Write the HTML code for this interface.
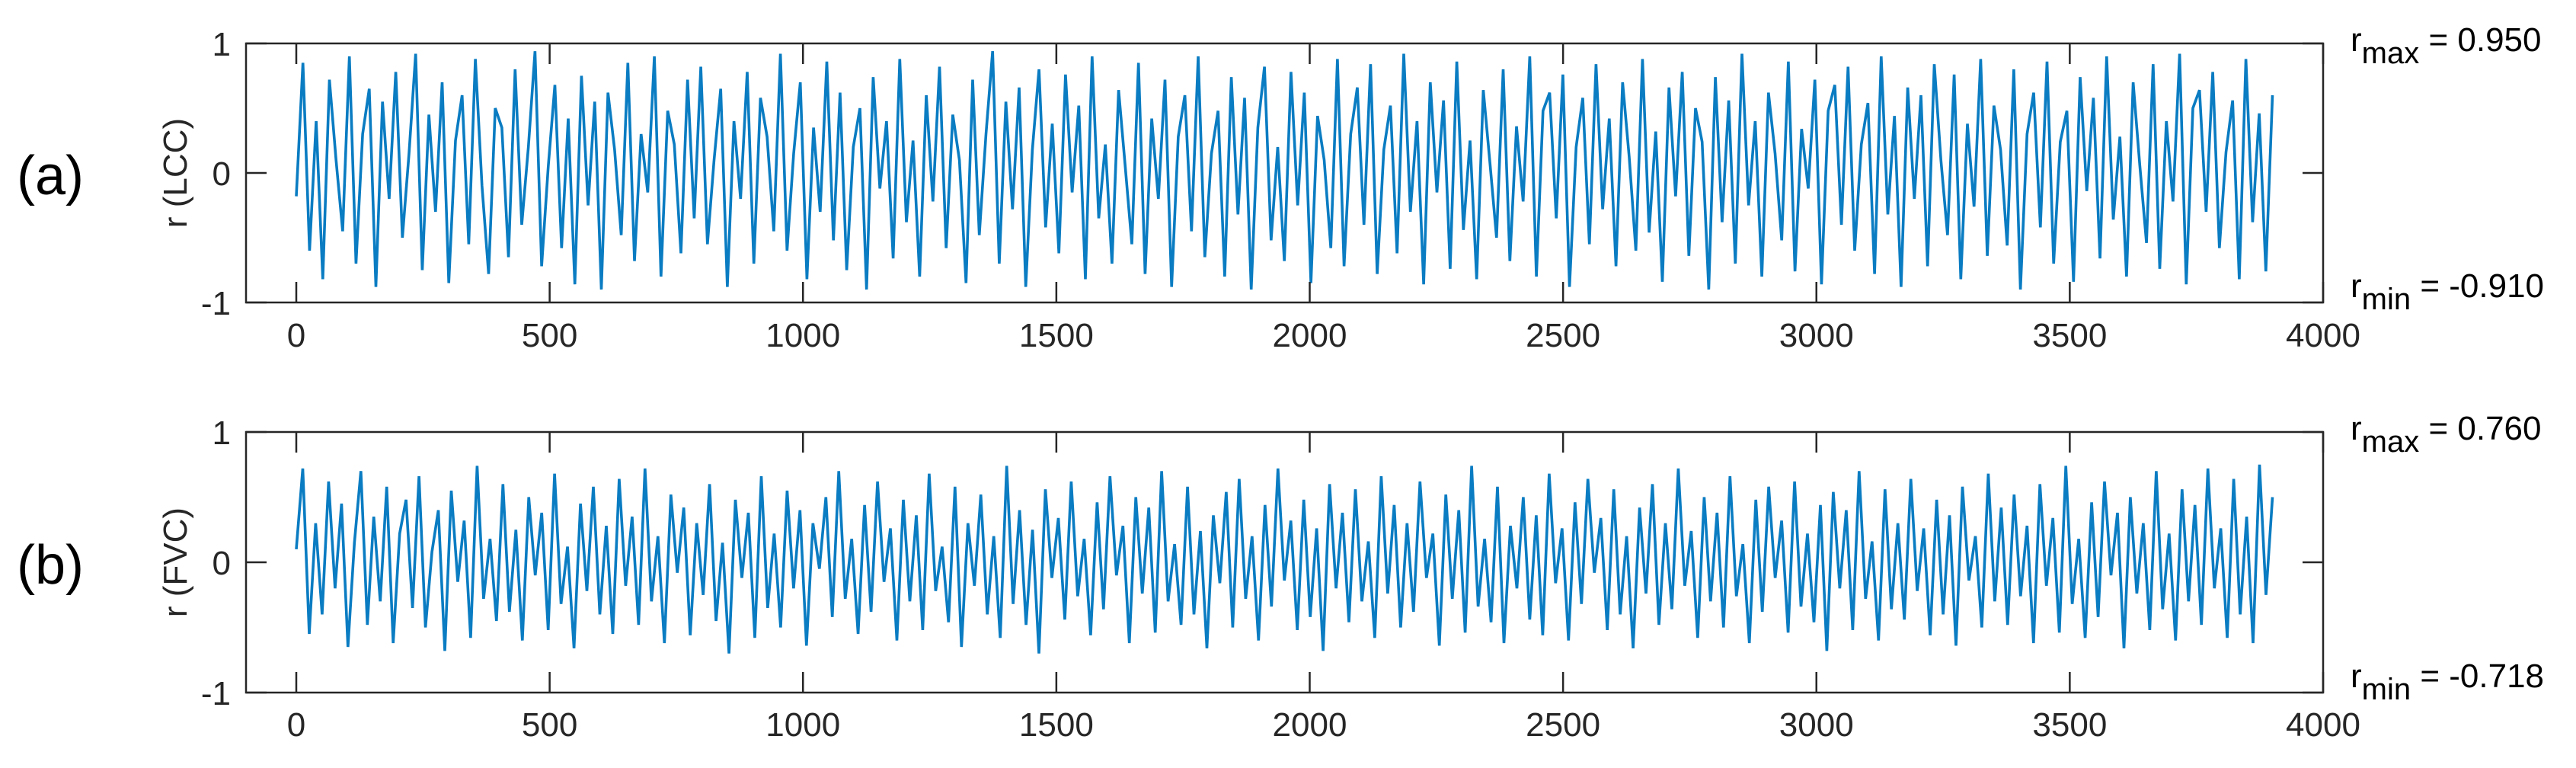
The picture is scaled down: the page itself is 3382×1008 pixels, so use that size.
<!DOCTYPE html>
<html><head><meta charset="utf-8"><style>
html,body{margin:0;padding:0;background:#fff;}
svg{display:block;font-family:"Liberation Sans",Arial,sans-serif;}
</style></head><body>
<svg id="chart" width="3382" height="1008" viewBox="0 0 3382 1008" xmlns="http://www.w3.org/2000/svg"></svg>
<script>
const xTicks=[0,500,1000,1500,2000,2500,3000,3500,4000];
const yTicks=[-1,0,1];
const xEnd=3900;
const seriesLCC=[-18,85,-60,40,-82,72,10,-45,90,-70,30,65,-88,55,-20,78,-50,15,92,-75,45,-30,70,-85,25,60,-55,88,-10,-78,50,35,-65,80,-40,20,94,-72,5,68,-58,42,-86,75,-25,55,-90,62,18,-48,85,-68,30,-15,90,-80,48,22,-62,72,-35,82,-55,10,65,-88,40,-20,78,-70,58,28,-45,92,-60,15,70,-82,35,-30,86,-52,62,-75,20,50,-90,74,-12,40,-66,88,-38,25,-80,60,-22,82,-58,45,10,-85,72,-48,30,94,-70,55,-28,66,-88,18,80,-42,38,-62,76,-15,52,-82,90,-35,22,-70,64,5,-55,85,-78,42,-20,72,-88,28,60,-45,90,-65,15,48,-80,74,-32,58,-90,35,82,-52,20,-68,78,-25,62,-85,44,10,-58,88,-72,30,66,-40,84,-78,18,52,-62,92,-30,40,-86,70,-15,56,-74,86,-44,25,-82,64,8,-50,80,-68,36,-22,90,-80,48,62,-35,76,-88,20,58,-55,84,-28,42,-72,70,12,-60,88,-46,32,-84,66,-18,78,-64,50,24,-90,74,-38,56,-70,92,-25,40,-80,62,15,-52,86,-76,34,-12,72,-86,48,68,-40,82,-60,22,54,-78,90,-32,44,-88,66,-20,60,-72,84,10,-48,76,-82,38,-26,88,-64,52,18,-56,80,-90,30,62,-42,86,-70,24,48,-84,74,-14,58,-66,90,-36,28,-80,70,6,-54,84,-74,40,-22,92,-86,50,64,-30,78,-58,16,56,-82,88,-38,46,-76,60];
const seriesFVC=[10,72,-55,30,-40,62,-20,45,-65,15,70,-48,35,-30,58,-62,22,48,-35,66,-50,8,40,-68,55,-15,32,-58,74,-28,18,-45,60,-38,25,-60,50,-10,38,-52,68,-32,12,-66,45,-22,58,-40,28,-55,64,-18,35,-48,72,-30,20,-62,52,-8,42,-56,30,-25,60,-45,15,-70,48,-12,38,-58,66,-35,22,-50,55,-20,40,-64,30,-5,50,-42,70,-28,18,-55,44,-38,62,-15,26,-60,48,-30,36,-52,68,-22,12,-46,58,-65,30,-18,52,-40,20,-58,74,-32,40,-48,25,-70,56,-12,34,-44,62,-26,18,-56,46,-36,66,-10,28,-62,50,-24,42,-54,70,-30,14,-48,58,-40,24,-66,36,-16,54,-50,64,-28,20,-60,44,-34,72,-14,32,-52,48,-42,26,-68,60,-20,38,-46,56,-30,16,-58,66,-24,44,-50,30,-38,62,-12,22,-64,52,-28,40,-54,74,-34,18,-46,58,-62,28,-20,50,-44,36,-56,68,-16,26,-60,46,-32,64,-8,34,-52,56,-40,20,-66,42,-24,60,-48,30,-36,72,-18,24,-58,50,-30,38,-50,66,-26,14,-62,48,-38,58,-12,32,-54,62,-34,22,-46,44,-68,54,-20,40,-52,70,-28,16,-60,56,-36,30,-44,64,-22,26,-56,48,-40,36,-64,58,-14,20,-50,68,-30,42,-48,52,-26,28,-62,60,-18,34,-54,74,-32,18,-58,46,-42,62,-10,38,-66,50,-24,30,-52,70,-36,22,-60,56,-30,44,-48,72,-20,26,-58,64,-40,35,-62,75,-25,50];

const svg=document.getElementById('chart');
const NS='http://www.w3.org/2000/svg';
function el(tag,attrs,parent,text){const e=document.createElementNS(NS,tag);for(const k in attrs)e.setAttribute(k,attrs[k]);if(text!==undefined)e.textContent=text;(parent||svg).appendChild(e);return e;}

const X0=323,X1=3050,XZ=389;
function xScale(v){return XZ+v*(X1-XZ)/4000;}

function panel(cfg){
  const g=el('g',{});
  
  
  const top=cfg.top,bot=cfg.bot;
  const yScale=v=>bot-(v+1)*(bot-top)/2;
  const step=xEnd/(cfg.data.length-1);
  let d='';
  cfg.data.forEach((v,i)=>{d+=(i?'L':'M')+xScale(i*step).toFixed(1)+' '+yScale(v/100).toFixed(1);});
  const p=el('path',{d:d,fill:'none',stroke:'#0a7cc2','stroke-width':3.6,'stroke-linejoin':'miter','stroke-miterlimit':2},g);
  
  
  const box=el('rect',{x:X0,y:top,width:X1-X0,height:bot-top,fill:'none',stroke:'#262626','stroke-width':2.5},g);
  
  
  xTicks.forEach(t=>{
    const x=xScale(t);
    el('line',{x1:x,x2:x,y1:bot,y2:bot-27,stroke:'#262626','stroke-width':2.5},g);
    el('line',{x1:x,x2:x,y1:top,y2:top+27,stroke:'#262626','stroke-width':2.5},g);
    const tl=el('text',{x:x,y:cfg.xlabY,'text-anchor':'middle','font-size':44,fill:'#262626'},g,String(t));
    
    
  });
  yTicks.forEach(t=>{
    const y=yScale(t);
    el('line',{x1:X0,x2:X0+27,y1:y,y2:y,stroke:'#262626','stroke-width':2.5},g);
    el('line',{x1:X1,x2:X1-27,y1:y,y2:y,stroke:'#262626','stroke-width':2.5},g);
    const tl=el('text',{x:303,y:y+16,'text-anchor':'end','font-size':44,fill:'#262626'},g,String(t));
    
    
  });
  const yt=el('text',{x:0,y:0,'text-anchor':'middle','font-size':44,fill:'#262626',transform:'translate(245,'+((top+bot)/2)+') rotate(-90)'},g,cfg.ytitle);
  
  
  const lab=el('text',{x:22,y:(top+bot)/2+28,'font-size':72,fill:'#000'},g,cfg.label);
  
  
  const mx=el('text',{x:3086,y:top+10,'font-size':44,fill:'#000'},g);
  
  
  el('tspan',{},mx,'r');
  el('tspan',{dy:16,'font-size':40},mx,'max');
  el('tspan',{dy:-16},mx,' = '+cfg.rmax);
  const mn=el('text',{x:3086,y:bot-7,'font-size':44,fill:'#000'},g);
  
  
  el('tspan',{},mn,'r');
  el('tspan',{dy:16,'font-size':40},mn,'min');
  el('tspan',{dy:-16},mn,' = '+cfg.rmin);
}
panel({name:'panel-a-lcc',top:57,bot:397,xlabY:455,data:seriesLCC,ytitle:'r (LCC)',label:'(a)',rmax:'0.950',rmin:'-0.910'});
panel({name:'panel-b-fvc',top:567,bot:909,xlabY:966,data:seriesFVC,ytitle:'r (FVC)',label:'(b)',rmax:'0.760',rmin:'-0.718'});
</script>
</body></html>
